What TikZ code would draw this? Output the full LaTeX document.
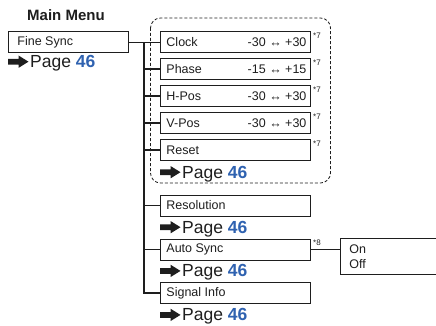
\documentclass[tikz,border=0pt]{standalone}
\usepackage{fontspec}
\setmainfont{Liberation Sans}
\definecolor{pageblue}{HTML}{2F62B0}
\definecolor{ink}{HTML}{1E1E1E}
\newcommand{\childlbl}[2]{\makebox[150pt][l]{\hspace{6pt}#1\hfill #2\hspace{4pt}}}
\begin{document}
\begin{tikzpicture}[x=1pt,y=-1pt,
  box/.style={draw=ink, line width=0.9pt, rectangle, inner sep=0pt, minimum height=21pt,
    anchor=north west, font=\fontsize{12.5}{15}\selectfont, text=ink},
  childbox/.style={box, minimum width=150pt},
  conn/.style={draw=ink, line width=1.3pt, line join=miter},
  note/.style={font=\fontsize{8}{9}\selectfont, inner sep=0pt, anchor=north west, text=ink},
  pagetxt/.style={font=\fontsize{17.5}{20}\selectfont, inner sep=0pt, anchor=base west, text=ink},
  groupframe/.style={draw=ink, line width=0.8pt, dash pattern=on 3pt off 2pt, rounded corners=10pt},
  pagearrow/.pic={\fill[ink] (-20.5,-2.9) -- (-10,-2.9) -- (-10,-6.2) -- (0,0) -- (-10,6.2) -- (-10,2.9) -- (-20.5,2.9) -- cycle;}
]
\useasboundingbox (0,0) rectangle (436,326);
\clip (0,0) rectangle (436,326);

% title
\node[anchor=base west, inner sep=0pt, text=ink, font=\bfseries\fontsize{15}{18}\selectfont] (title) at (27,20.5) {Main Menu};

% dashed group frame
\draw[groupframe] (150.5,18) rectangle (330.5,183);

% main item
\node[box, minimum width=120pt, minimum height=20.5pt] (fine) at (8,31.5) {\makebox[120pt][l]{\hspace{9pt}Fine Sync}};

% children
\node[childbox] (clock) at (160,31) {\childlbl{Clock}{-30 ↔ +30}};
\node[childbox] (phase) at (160,58) {\childlbl{Phase}{-15 ↔ +15}};
\node[childbox] (hpos)  at (160,85) {\childlbl{H-Pos}{-30 ↔ +30}};
\node[childbox] (vpos)  at (160,112) {\childlbl{V-Pos}{-30 ↔ +30}};
\node[childbox] (reset) at (160,139) {\childlbl{Reset}{}};
\node[childbox] (resol) at (160,194.5) {\childlbl{Resolution}{}};
\node[childbox] (auto)  at (160,238.5) {\childlbl{Auto Sync}{}};
\node[childbox] (signal) at (160,282) {\childlbl{Signal Info}{}};

% on/off
\node[box, minimum width=120pt, minimum height=35.7pt, inner xsep=9pt, text width=102pt,
      align=left, font=\fontsize{12.5}{15.7}\selectfont] (onoff) at (340,238.3) {On\\Off};

% notes
\node[note] (n1) at (313,32.5) {*7};
\node[note] (n2) at (313,59.5) {*7};
\node[note] (n3) at (313,86.5) {*7};
\node[note] (n4) at (313,113.5) {*7};
\node[note] (n5) at (313,140.5) {*7};
\node[note] (n6) at (313,239.5) {*8};

% connectors
\coordinate (trunk) at (144,0);
\draw[conn] (fine.east) -- (fine.east -| clock.west);
\draw[conn] (trunk |- fine.east) -- (trunk |- signal.west) -- (signal.west);
\foreach \n in {phase,hpos,vpos,reset,resol,auto} \draw[conn] (trunk |- \n.west) -- (\n.west);
\draw[conn] (auto.east) -- (auto.east -| onoff.west);

% page references
\node[pagetxt] (pg1) at (30,67.5) {Page \textbf{\color{pageblue}46}};
\node[pagetxt] (pg2) at (182,178) {Page \textbf{\color{pageblue}46}};
\node[pagetxt] (pg3) at (182,233) {Page \textbf{\color{pageblue}46}};
\node[pagetxt] (pg4) at (182,276.7) {Page \textbf{\color{pageblue}46}};
\node[pagetxt] (pg5) at (182,320.7) {Page \textbf{\color{pageblue}46}};
\foreach \p in {pg1,pg2,pg3,pg4,pg5} \path (\p.base west) ++(-1.5,-5.8) pic {pagearrow};
\end{tikzpicture}
\end{document}
